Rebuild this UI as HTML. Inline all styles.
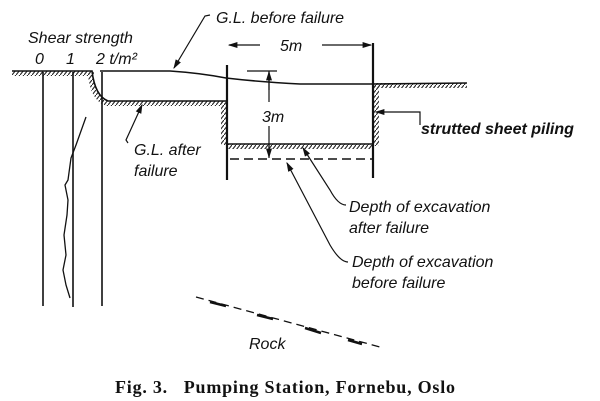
<!DOCTYPE html>
<html><head><style>
body{margin:0;background:#fff;}
svg{display:block}
.t{font-family:"Liberation Sans",sans-serif;font-style:italic;fill:#111;font-size:16px}
</style></head><body>
<svg width="600" height="401" viewBox="0 0 600 401">
<defs>
<pattern id="h" width="4" height="5" patternUnits="userSpaceOnUse"><path d="M0,5 L4,0" stroke="#222" stroke-width="1.1"/></pattern>
<marker id="a" markerWidth="8" markerHeight="8" refX="7" refY="4" orient="auto"><path d="M0,1.5 L8,4 L0,6.5z" fill="#111"/></marker>
</defs>
<g stroke="#111" fill="none" stroke-width="1.6">
<rect x="12" y="71" width="82" height="5" fill="url(#h)" stroke="none"/>
<path d="M92,72 Q95,95 108,101 L226,101 L226,106 L106,106 Q90,100 88,74z" fill="url(#h)" stroke="none"/>
<rect x="221" y="101" width="5" height="44" fill="url(#h)" stroke="none"/>
<rect x="228" y="144" width="145" height="5" fill="url(#h)" stroke="none"/>
<rect x="374" y="83" width="93" height="5" fill="url(#h)" stroke="none"/>
<rect x="374" y="83" width="5" height="63" fill="url(#h)" stroke="none"/>
<path d="M12,71 L92,71 Q95,96 108,101 L226,101"/>
<path d="M100,71 L170,71 Q200,73 226,78 Q260,82 300,84 L373,84 L467,83"/>
<path d="M228,144 L373,144"/>
<path d="M230,159 L373,159" stroke-dasharray="9,5"/>
<path d="M227,65 V180 M373,43 V178" stroke-width="2.2"/>
<path d="M43,72 V306 M73,72 V307 M102,72 V306"/>
<path d="M86,117 L76,145 L71,158 L68,180 L65,185 L68,200 L67,215 L64,235 L66,255 L63,270 L66,285 L70,298" stroke-width="1.3"/>
<path d="M260,45 L229,45" marker-end="url(#a)" stroke-width="1.2"/>
<path d="M322,45 L371,45" marker-end="url(#a)" stroke-width="1.2"/>
<path d="M247,71 L277,71 M269,71 V102 M269,126 V158" stroke-width="1.2"/>
<path d="M269,145 L269,157" marker-end="url(#a)" stroke-width="1.2"/>
<path d="M269,90 L269,72" marker-end="url(#a)" stroke-width="1.2"/>
<path d="M210,15 L205,16 L174,68" marker-end="url(#a)" stroke-width="1.2"/>
<path d="M128,143 L126,140 L142,105" marker-end="url(#a)" stroke-width="1.2"/>
<path d="M420,125 V112 L376,112" marker-end="url(#a)" stroke-width="1.2"/>
<path d="M346,205 Q338,205 330,190 L303,148" marker-end="url(#a)" stroke-width="1.2"/>
<path d="M348,262 Q340,262 330,245 L287,163" marker-end="url(#a)" stroke-width="1.2"/>
<path d="M196,297 L380,347" stroke-dasharray="8,5" stroke-width="1.3"/>
<g stroke-width="2.5"><path d="M210,302 L226,306 M257,315 L273,319 M305,328 L321,333 M348,340 L362,344"/></g>
</g>
<text class="t" x="28" y="43">Shear strength</text>
<text class="t" x="35" y="64">0</text>
<text class="t" x="66" y="64">1</text>
<text class="t" x="96" y="64">2 t/m²</text>
<text class="t" x="216" y="23">G.L. before failure</text>
<text class="t" x="280" y="51">5m</text>
<text class="t" x="262" y="122">3m</text>
<text class="t" x="134" y="155">G.L. after</text>
<text class="t" x="134" y="176">failure</text>
<text class="t" x="421" y="134" font-weight="bold" font-size="14">strutted sheet piling</text>
<text class="t" x="349" y="212">Depth of excavation</text>
<text class="t" x="349" y="233">after failure</text>
<text class="t" x="352" y="267">Depth of excavation</text>
<text class="t" x="352" y="288">before failure</text>
<text class="t" x="249" y="349">Rock</text>
<text x="115" y="393" font-family="Liberation Serif,serif" font-weight="bold" font-size="18" fill="#111" textLength="340" lengthAdjust="spacing" xml:space="preserve">Fig. 3.   Pumping Station, Fornebu, Oslo</text>
</svg>
</body></html>
